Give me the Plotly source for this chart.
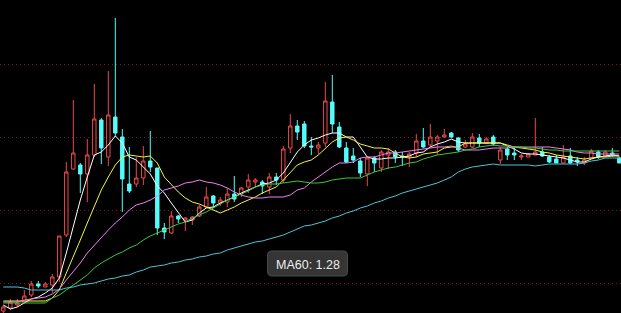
import plotly.graph_objects as go

# ---- data ----
days = list(range(89))

open_ = [0.43, 0.46, 0.49, 0.52, 0.59, 0.70, 0.67, 0.69, 0.77, 1.19,
         1.85, 1.89, 1.80, 1.99, 2.34, 1.97, 2.37, 2.17, 1.70, 1.70,
         1.76, 1.93, 1.86, 1.26, 1.21, 1.38, 1.34, 1.34, 1.38, 1.47,
         1.58, 1.51, 1.52, 1.60, 1.60, 1.67, 1.72, 1.72, 1.67, 1.77,
         1.74, 2.06, 2.28, 2.30, 2.08, 2.06, 2.11, 2.52, 2.27, 2.06,
         1.98, 1.93, 1.80, 1.96, 1.86, 1.99, 2.02, 1.98, 1.97, 2.01,
         2.13, 2.09, 2.13, 2.17, 2.21, 2.16, 2.07, 2.07, 2.16, 2.11,
         2.17, 1.94, 2.05, 2.01, 1.97, 1.97, 1.99, 2.02, 1.97, 1.95,
         1.91, 1.98, 1.94, 1.91, 1.96, 2.02, 1.98, 2.01, 1.96]

high = [0.49, 0.55, 0.55, 0.64, 0.73, 0.73, 0.72, 0.80, 1.18, 1.92,
        2.54, 1.91, 2.15, 2.70, 2.36, 2.83, 3.36, 2.25, 2.07, 1.97,
        2.08, 2.23, 1.86, 1.31, 1.43, 1.39, 1.37, 1.38, 1.49, 1.67,
        1.59, 1.57, 1.66, 1.78, 1.67, 1.80, 1.76, 1.74, 1.81, 1.81,
        2.08, 2.40, 2.34, 2.33, 2.17, 2.12, 2.72, 2.79, 2.32, 2.12,
        2.06, 1.96, 1.97, 1.98, 2.04, 2.06, 2.04, 2.02, 2.02, 2.20,
        2.26, 2.30, 2.19, 2.25, 2.22, 2.17, 2.14, 2.21, 2.20, 2.17,
        2.19, 2.07, 2.07, 2.06, 2.00, 2.01, 2.36, 2.07, 1.99, 1.99,
        2.09, 2.06, 1.97, 1.97, 2.05, 2.04, 2.04, 2.06, 1.97]

low = [0.41, 0.44, 0.47, 0.51, 0.57, 0.66, 0.67, 0.61, 0.72, 1.17,
       1.84, 1.61, 1.52, 1.97, 1.90, 1.88, 2.17, 1.42, 1.61, 1.67,
       1.69, 1.82, 1.19, 1.15, 1.20, 1.31, 1.23, 1.29, 1.37, 1.46,
       1.46, 1.48, 1.47, 1.52, 1.57, 1.61, 1.67, 1.60, 1.60, 1.69,
       1.71, 2.01, 2.14, 2.06, 1.99, 2.00, 2.07, 2.21, 2.06, 1.91,
       1.91, 1.77, 1.68, 1.82, 1.82, 1.85, 1.91, 1.88, 1.87, 1.97,
       2.06, 2.07, 1.99, 2.16, 2.16, 2.02, 2.06, 2.06, 2.07, 2.10,
       2.08, 1.90, 1.94, 1.94, 1.94, 1.97, 1.99, 1.97, 1.91, 1.91,
       1.91, 1.90, 1.88, 1.89, 1.95, 1.95, 1.97, 1.97, 1.91]

close = [0.47, 0.52, 0.51, 0.58, 0.70, 0.68, 0.70, 0.77, 1.18, 1.82,
         2.01, 1.80, 1.99, 2.35, 2.06, 2.39, 2.21, 1.75, 1.63, 1.76,
         1.93, 1.87, 1.26, 1.22, 1.38, 1.35, 1.36, 1.37, 1.47, 1.57,
         1.51, 1.54, 1.60, 1.55, 1.66, 1.74, 1.74, 1.68, 1.77, 1.74,
         2.05, 2.28, 2.22, 2.08, 2.07, 2.09, 2.53, 2.30, 2.07, 1.92,
         1.94, 1.81, 1.96, 1.91, 2.02, 2.02, 1.97, 1.97, 2.00, 2.13,
         2.07, 2.17, 2.17, 2.19, 2.17, 2.04, 2.10, 2.17, 2.11, 2.15,
         2.10, 2.04, 1.99, 1.99, 1.98, 2.00, 2.02, 1.98, 1.92, 1.91,
         1.97, 1.91, 1.92, 1.94, 2.03, 1.97, 2.02, 1.99, 1.91]

ma5 = [0.49, 0.45, 0.47, 0.51, 0.55, 0.57, 0.61, 0.66, 0.76, 1.01,
       1.27, 1.54, 1.77, 1.99, 2.02, 2.09, 2.18, 2.11, 1.97, 1.94,
       1.87, 1.80, 1.68, 1.61, 1.51, 1.41, 1.32, 1.34, 1.41, 1.46,
       1.47, 1.51, 1.54, 1.57, 1.61, 1.64, 1.67, 1.70, 1.71, 1.74,
       1.81, 1.91, 2.02, 2.09, 2.14, 2.16, 2.19, 2.21, 2.21, 2.17,
       2.17, 2.07, 1.97, 1.95, 1.95, 1.96, 1.96, 1.97, 1.98, 2.01,
       2.02, 2.07, 2.10, 2.12, 2.15, 2.12, 2.11, 2.11, 2.11, 2.11,
       2.11, 2.11, 2.08, 2.05, 2.01, 2.00, 2.00, 1.99, 1.98, 1.97,
       1.96, 1.94, 1.92, 1.92, 1.95, 1.97, 1.98, 1.99, 1.98]

ma10 = [0.53, 0.53, 0.53, 0.53, 0.53, 0.53, 0.53, 0.56, 0.64, 0.81,
        0.97, 1.14, 1.31, 1.47, 1.64, 1.77, 1.89, 1.97, 1.99, 1.98,
        1.97, 1.98, 1.91, 1.77, 1.69, 1.62, 1.56, 1.52, 1.50, 1.47,
        1.44, 1.41, 1.44, 1.47, 1.51, 1.54, 1.57, 1.61, 1.64, 1.67,
        1.74, 1.82, 1.89, 1.92, 1.94, 1.99, 2.06, 2.12, 2.16, 2.17,
        2.14, 2.10, 2.08, 2.06, 2.06, 2.05, 2.01, 1.97, 1.96, 1.97,
        2.00, 2.01, 2.02, 2.06, 2.07, 2.07, 2.11, 2.11, 2.11, 2.11,
        2.11, 2.11, 2.09, 2.07, 2.06, 2.05, 2.04, 2.02, 2.01, 1.99,
        1.98, 1.97, 1.96, 1.95, 1.96, 1.97, 1.97, 1.98, 1.98]

ma20 = [0.52, 0.52, 0.52, 0.54, 0.55, 0.56, 0.57, 0.60, 0.65, 0.74,
        0.82, 0.91, 1.01, 1.09, 1.17, 1.24, 1.31, 1.37, 1.44, 1.49,
        1.51, 1.54, 1.58, 1.64, 1.66, 1.68, 1.71, 1.72, 1.74, 1.72,
        1.71, 1.69, 1.66, 1.62, 1.59, 1.57, 1.56, 1.56, 1.57, 1.57,
        1.57, 1.59, 1.64, 1.66, 1.72, 1.77, 1.82, 1.87, 1.91, 1.91,
        1.92, 1.96, 1.97, 1.97, 1.99, 2.01, 2.01, 2.02, 2.03, 2.04,
        2.05, 2.06, 2.07, 2.07, 2.08, 2.06, 2.04, 2.04, 2.04, 2.05,
        2.06, 2.06, 2.06, 2.07, 2.07, 2.07, 2.07, 2.07, 2.07, 2.06,
        2.05, 2.04, 2.02, 2.01, 2.01, 2.00, 2.00, 2.00, 2.00]

ma30 = [0.51, 0.51, 0.51, 0.51, 0.51, 0.51, 0.51, 0.56, 0.59, 0.64,
        0.69, 0.74, 0.79, 0.86, 0.91, 0.95, 0.99, 1.02, 1.06, 1.09,
        1.14, 1.18, 1.21, 1.24, 1.27, 1.30, 1.32, 1.36, 1.39, 1.42,
        1.46, 1.50, 1.54, 1.57, 1.60, 1.63, 1.67, 1.69, 1.70, 1.70,
        1.71, 1.72, 1.73, 1.72, 1.71, 1.71, 1.72, 1.74, 1.75, 1.76,
        1.76, 1.76, 1.79, 1.82, 1.84, 1.86, 1.87, 1.89, 1.91, 1.92,
        1.95, 1.97, 1.99, 2.00, 2.01, 2.02, 2.04, 2.05, 2.07, 2.08,
        2.09, 2.08, 2.08, 2.07, 2.07, 2.06, 2.06, 2.05, 2.04, 2.04,
        2.03, 2.03, 2.03, 2.03, 2.03, 2.03, 2.03, 2.03, 2.03]

ma60 = [0.67, 0.67, 0.67, 0.66, 0.64, 0.64, 0.64, 0.64, 0.64, 0.66,
        0.67, 0.69, 0.70, 0.71, 0.73, 0.75, 0.76, 0.78, 0.79, 0.82,
        0.84, 0.87, 0.88, 0.89, 0.91, 0.92, 0.94, 0.95, 0.97, 0.98,
        1.00, 1.01, 1.04, 1.06, 1.08, 1.10, 1.12, 1.13, 1.15, 1.17,
        1.19, 1.22, 1.25, 1.28, 1.29, 1.31, 1.33, 1.36, 1.38, 1.41,
        1.43, 1.46, 1.48, 1.51, 1.53, 1.56, 1.58, 1.61, 1.63, 1.65,
        1.67, 1.69, 1.71, 1.74, 1.77, 1.82, 1.85, 1.87, 1.88, 1.89,
        1.90, 1.89, 1.89, 1.89, 1.89, 1.89, 1.88, 1.89, 1.90, 1.90,
        1.90, 1.90, 1.90, 1.91, 1.93, 1.94, 1.96, 1.96, 1.96]

ma_names = ["MA5", "MA10", "MA20", "MA30", "MA60"]
ma_series = [ma5, ma10, ma20, ma30, ma60]
ma_colors = ["#ffffff", "#f4f43c", "#f080f0", "#3cc83c", "#4cc4d8"]

tooltip_text = "MA60: 1.28"

# ---- figure ----
W, H = 621, 313
fig = go.Figure()

fig.add_trace(go.Candlestick(
    x=days, open=open_, high=high, low=low, close=close,
    increasing=dict(line=dict(color="#ee4848", width=1), fillcolor="#000000"),
    decreasing=dict(line=dict(color="#54fcfc", width=1), fillcolor="#54fcfc"),
    whiskerwidth=0, hoverinfo="skip", showlegend=False,
))

for name, vals, col in zip(ma_names, ma_series, ma_colors):
    fig.add_trace(go.Scatter(x=days, y=vals, mode="lines", name=name,
                             line=dict(color=col, width=1), hoverinfo="skip",
                             showlegend=False))


def px_x(v):
    return v / W


def px_y(v):
    return 1 - v / H


# rounded tooltip box (pixel geometry -> paper coords)
bx0, bx1, by0, by1, r = 267.5, 347.5, 251, 276, 4
path = (f"M {px_x(bx0 + r)},{px_y(by0)} L {px_x(bx1 - r)},{px_y(by0)} "
        f"Q {px_x(bx1)},{px_y(by0)} {px_x(bx1)},{px_y(by0 + r)} "
        f"L {px_x(bx1)},{px_y(by1 - r)} Q {px_x(bx1)},{px_y(by1)} {px_x(bx1 - r)},{px_y(by1)} "
        f"L {px_x(bx0 + r)},{px_y(by1)} Q {px_x(bx0)},{px_y(by1)} {px_x(bx0)},{px_y(by1 - r)} "
        f"L {px_x(bx0)},{px_y(by0 + r)} Q {px_x(bx0)},{px_y(by0)} {px_x(bx0 + r)},{px_y(by0)} Z")
fig.add_shape(type="path", path=path, xref="paper", yref="paper",
              fillcolor="rgba(58,58,58,0.92)", line=dict(color="#4a4a4a", width=1),
              layer="above")
fig.add_annotation(x=px_x(307.5), y=px_y(264.5), xref="paper", yref="paper",
                   text=tooltip_text, showarrow=False, xanchor="center", yanchor="middle",
                   font=dict(family="Liberation Sans, Arial, sans-serif", size=12.5, color="#eeeeee"))

fig.update_layout(
    width=W, height=H,
    margin=dict(l=0, r=0, t=0, b=0),
    paper_bgcolor="#000000", plot_bgcolor="#000000",
    showlegend=False,
    hovermode=False,
    xaxis=dict(range=[-0.471, 88.243], showgrid=False, zeroline=False,
               showticklabels=False, ticks="", showline=False,
               rangeslider=dict(visible=False), fixedrange=True),
    yaxis=dict(range=[0.41, 3.54], tick0=0.71, dtick=0.73, showgrid=True,
               gridcolor="#7a1c1c", gridwidth=1, griddash="1px,3px",
               zeroline=False, showticklabels=False, ticks="", showline=False,
               fixedrange=True),
)

fig.write_html("out.html")
